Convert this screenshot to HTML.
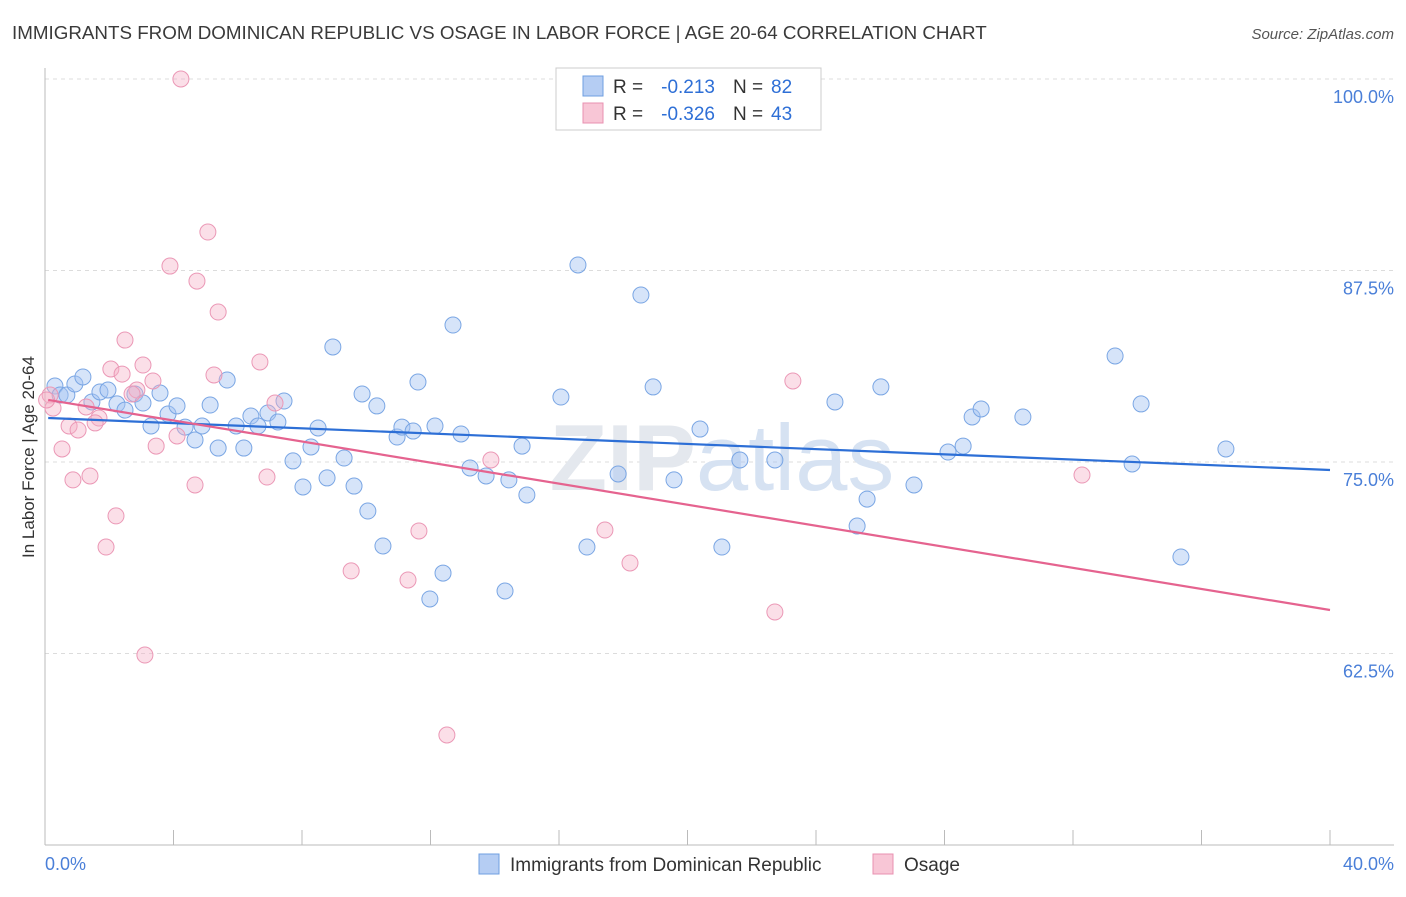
<!DOCTYPE html>
<html><head><meta charset="utf-8"><style>
body{margin:0;background:#fff;font-family:"Liberation Sans",sans-serif;}
svg text{font-family:"Liberation Sans",sans-serif;}
</style></head><body>
<svg id="chart" width="1406" height="892" viewBox="0 0 1406 892" xmlns="http://www.w3.org/2000/svg">
<text x="12" y="39" font-size="18.8" fill="#3a3a3a">IMMIGRANTS FROM DOMINICAN REPUBLIC VS OSAGE IN LABOR FORCE | AGE 20-64 CORRELATION CHART</text>
<text x="1394" y="39" font-size="15" fill="#555" text-anchor="end" font-style="italic">Source: ZipAtlas.com</text>
<g id="grid"></g>
<text x="722" y="490" font-size="94" fill="#e4e8ee" text-anchor="middle" font-weight="bold" font-family="Liberation Serif, serif">ZIP<tspan fill="#d6e2f2" font-family="Liberation Sans, sans-serif" font-weight="normal">atlas</tspan></text>
<g id="marks"></g>
<text transform="translate(34,457) rotate(-90)" font-size="17" fill="#333" text-anchor="middle">In Labor Force | Age 20-64</text>
<text x="45" y="870" font-size="18" fill="#4a7fd8">0.0%</text>
<text x="1394" y="870" font-size="18" fill="#4a7fd8" text-anchor="end">40.0%</text>
<g>
<rect x="556" y="68" width="265" height="62" fill="#fff" stroke="#ccc"/>
<rect x="583" y="76" width="20" height="20" fill="#b5cdf3" stroke="#6f9fe0"/>
<rect x="583" y="103" width="20" height="20" fill="#f8c6d6" stroke="#e890b0"/>
<text x="613" y="93" font-size="19" fill="#333">R =</text>
<text x="715" y="93" font-size="19" fill="#2e6fd6" text-anchor="end">-0.213</text>
<text x="733" y="93" font-size="19" fill="#333">N =</text>
<text x="771" y="93" font-size="19" fill="#2e6fd6">82</text>
<text x="613" y="120" font-size="19" fill="#333">R =</text>
<text x="715" y="120" font-size="19" fill="#2e6fd6" text-anchor="end">-0.326</text>
<text x="733" y="120" font-size="19" fill="#333">N =</text>
<text x="771" y="120" font-size="19" fill="#2e6fd6">43</text>
</g>
<g>
<rect x="479" y="854" width="20" height="20" fill="#b5cdf3" stroke="#6f9fe0"/>
<text x="510" y="871" font-size="19" fill="#333">Immigrants from Dominican Republic</text>
<rect x="873" y="854" width="20" height="20" fill="#f8c6d6" stroke="#e890b0"/>
<text x="904" y="871" font-size="19" fill="#333">Osage</text>
</g>
</svg>
<script>
const yTicks=[100,87.5,75,62.5];
const yTickLabels=["100.0%","87.5%","75.0%","62.5%"];
const xTicks=[0,4,8,12,16,20,24,28,32,36,40];
const blueX=[0.31,0.47,0.68,0.93,1.18,1.46,1.71,1.96,2.24,2.49,2.80,3.05,3.30,3.58,3.83,4.11,4.36,4.67,4.89,5.14,5.39,5.67,5.95,6.19,6.41,6.63,6.94,7.25,7.44,7.72,8.03,8.28,8.50,8.78,8.96,9.31,9.62,9.87,10.05,10.33,10.52,10.96,11.11,11.46,11.61,11.98,12.14,12.39,12.70,12.95,13.23,13.73,14.32,14.44,14.85,15.00,16.06,16.59,16.87,17.84,18.55,18.93,19.58,20.39,21.07,21.63,22.72,24.59,25.28,25.59,26.02,27.05,28.11,28.58,28.86,29.14,30.44,33.31,33.84,34.12,35.36,36.76];
const blueY=[79.96,79.37,79.37,80.09,80.55,78.92,79.57,79.70,78.79,78.39,79.44,78.85,77.35,79.50,78.13,78.66,77.28,76.44,77.35,78.72,75.91,80.35,77.35,75.91,78.00,77.35,78.20,77.61,78.98,75.07,73.37,75.98,77.22,73.96,82.51,75.26,73.43,79.44,71.80,78.66,69.52,76.63,77.28,77.02,80.22,66.06,77.35,67.75,83.94,76.83,74.61,74.09,66.58,73.83,76.04,72.85,79.24,87.86,69.45,74.22,85.90,79.90,73.83,77.15,69.45,75.13,75.13,78.92,70.82,72.58,79.90,73.50,75.65,76.04,77.94,78.46,77.94,81.92,74.87,78.79,68.80,75.85];
const pinkX=[4.23,5.07,3.89,4.73,5.39,2.49,3.05,6.69,2.05,2.40,3.36,5.26,2.86,2.71,0.16,0.25,1.28,1.68,7.16,0.75,1.56,1.03,4.11,3.46,0.53,0.87,1.40,4.67,6.91,2.21,1.90,11.64,17.43,9.53,11.30,18.21,13.88,23.28,32.28,22.72,3.11,12.51,0.05];
const pinkY=[100,90.01,87.79,86.81,84.79,82.96,81.33,81.53,81.07,80.74,80.29,80.68,79.70,79.44,79.37,78.52,78.59,77.87,78.85,77.35,77.55,77.09,76.70,76.04,75.85,73.83,74.09,73.50,74.02,71.48,69.45,70.50,70.56,67.89,67.30,68.41,75.13,80.29,74.15,65.21,62.40,57.18,79.05];
const blueTrend=[77.87,74.48];
const pinkTrend=[79.05,65.34];
const NS="http://www.w3.org/2000/svg";
const xs=v=>45+v*32.125, ys=v=>79+(100-v)*15.32;
function mk(tag,attrs,parent){const e=document.createElementNS(NS,tag);for(const k in attrs)e.setAttribute(k,attrs[k]);parent.appendChild(e);return e;}
const grid=document.getElementById('grid'),marks=document.getElementById('marks');
yTicks.forEach((t,i)=>{
 const l=mk('line',{x1:45,x2:1394,y1:ys(t),y2:ys(t),stroke:'#dcdcdc','stroke-dasharray':'4,4'},grid);
 
 
 const tx=mk('text',{x:1394,y:ys(t)+24,'font-size':18,fill:'#4a7fd8','text-anchor':'end'},grid);
 tx.textContent=yTickLabels[i];
 
 
});
const ax=mk('line',{x1:45,x2:1394,y1:845,y2:845,stroke:'#bbb'},grid);


const ay=mk('line',{x1:45,x2:45,y1:68,y2:845,stroke:'#bbb'},grid);


xTicks.forEach(t=>{
 const l=mk('line',{x1:xs(t),x2:xs(t),y1:830,y2:845,stroke:'#bbb'},grid);
 
 
});
function pts(X,Y,fill,stroke,name){
 X.forEach((x,i)=>{
  const c=mk('circle',{cx:xs(x),cy:ys(Y[i]),r:8,fill:fill,stroke:stroke,'stroke-width':1},marks);
  
  
 });
}
pts(blueX,blueY,'rgba(165,195,242,0.45)','#7aa6e4','point-dominican');
pts(pinkX,pinkY,'rgba(246,175,198,0.4)','#eb98b6','point-osage');
const bl=mk('line',{x1:xs(0.1),y1:ys(blueTrend[0]),x2:xs(40),y2:ys(blueTrend[1]),stroke:'#2d6fd6','stroke-width':2.2},marks);


const pl=mk('line',{x1:xs(0.1),y1:ys(pinkTrend[0]),x2:xs(40),y2:ys(pinkTrend[1]),stroke:'#e5638f','stroke-width':2.2},marks);


</script>
</body></html>
